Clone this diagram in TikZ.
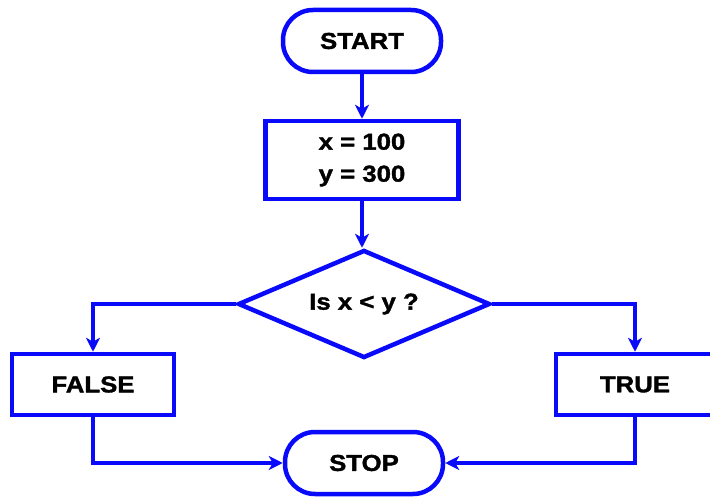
\documentclass[tikz,border=0pt]{standalone}
\usepackage{fontspec}
\newfontfamily\blk{Liberation Sans Bold}[FakeBold=1.5,FakeStretch=1.12]
\usetikzlibrary{shapes.geometric,arrows.meta}
\definecolor{fblue}{RGB}{10,10,250}
\begin{document}
\begin{tikzpicture}[x=1pt,y=-1pt,
  every node/.style={font=\fontsize{23}{32}\blk, text=black},
  term/.style={draw=fblue, line width=4.5pt, rectangle, rounded corners=30pt, minimum width=158pt, minimum height=62pt, inner sep=0pt},
  proc/.style={draw=fblue, line width=4.5pt, rectangle, inner sep=0pt, align=center},
  dec/.style={draw=fblue, line width=4.5pt, diamond, inner sep=0pt, minimum width=252pt, minimum height=108pt, aspect=2.33},
  conn/.style={draw=fblue, line width=4.5pt, -{Stealth[length=14pt,width=14pt,inset=4pt]}}
]
\useasboundingbox (0,0) rectangle (710,497);
\node[term] (start) at (362,41) {START};
\node[proc, minimum width=193pt, minimum height=78pt] (init) at (362,160) {x = 100\\y = 300};
\node[dec] (cond) at (364,304) {Is x < y ?};
\node[proc, minimum width=162pt, minimum height=61pt] (false) at (93,384.5) {FALSE};
\node[proc, minimum width=158pt, minimum height=61pt] (true) at (635,384.5) {TRUE};
\node[term] (stop) at (364,463) {STOP};
\draw[conn] (start) -- (init);
\draw[conn] (init.south) -- (init.south |- cond.north);
\draw[conn] (cond.west) -| (false.north);
\draw[conn] (cond.east) -| (true.north);
\draw[conn] (false.south) |- (stop.west);
\draw[conn] (true.south) |- (stop.east);
\end{tikzpicture}
\end{document}
